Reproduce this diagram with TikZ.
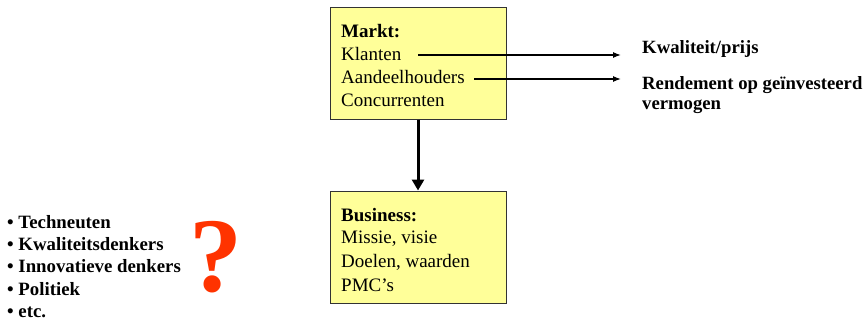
\documentclass[tikz,border=0pt]{standalone}
\usepackage{fontspec}
\setmainfont{Liberation Serif}
\usetikzlibrary{arrows.meta}
\definecolor{boxfill}{HTML}{FFFF99}
\definecolor{boxline}{HTML}{333333}
\definecolor{qred}{HTML}{FF3300}
\tikzset{
  panel/.style={draw=boxline, line width=1pt, fill=boxfill, minimum width=176pt, minimum height=112pt, inner sep=0pt},
  entry/.style={anchor=west, inner sep=0pt, font=\fontsize{19}{23}\selectfont},
  heading/.style={entry, font=\fontsize{19}{23}\selectfont\bfseries},
  result/.style={anchor=west, inner sep=0pt, align=left, font=\fontsize{18.7}{20}\selectfont\bfseries},
  thinarrow/.style={line width=1.2pt, -{Latex[length=8pt,width=6pt]}},
  thickarrow/.style={line width=3pt, -{Triangle[length=11pt,width=12pt]}}
}
\begin{document}
\begin{tikzpicture}[x=1pt,y=-1pt]
\useasboundingbox (0,0) rectangle (866,325);

% market box
\node[panel] (markt) at (418,63) {};
\node[heading] (mtitle) at (341,31) {Markt:};
\node[entry] (klanten) at (341,54) {Klanten};
\node[entry] (aandeel) at (341,77) {Aandeelhouders};
\node[entry] (concur) at (341,100) {Concurrenten};

% business box
\node[panel] (business) at (418,247) {};
\node[heading] (btitle) at (341,215) {Business:};
\node[entry] (missie) at (341,239) {Missie, visie};
\node[entry] (doelen) at (341,262) {Doelen, waarden};
\node[entry] (pmc) at (341,285) {PMC’s};

% outcomes on the right
\node[result] (kwal) at (642,49) {Kwaliteit/prijs};
\node[result, anchor=north west] (rend) at (642,76) {Rendement op geïnvesteerd\\vermogen};
\coordinate (kstart) at (418,55);
\coordinate (kend) at (621,55);
\coordinate (astart) at (474,79);
\coordinate (aend) at (621,79);

\draw[thinarrow] (kstart) -- (kend);
\draw[thinarrow] (astart) -- (aend);

% link between the boxes
\draw[thickarrow] (markt.south) -- (business.north);

% stakeholder list
\node[anchor=north west, inner sep=0pt, align=left, font=\fontsize{18.8}{22.3}\selectfont\bfseries] (groups) at (7,215)
  {• Techneuten\\• Kwaliteitsdenkers\\• Innovatieve denkers\\• Politiek\\• etc.};

\node[text=qred, inner sep=0pt, font=\fontsize{106}{106}\selectfont\bfseries] (question) at (216,257) {?};
\end{tikzpicture}
\end{document}
